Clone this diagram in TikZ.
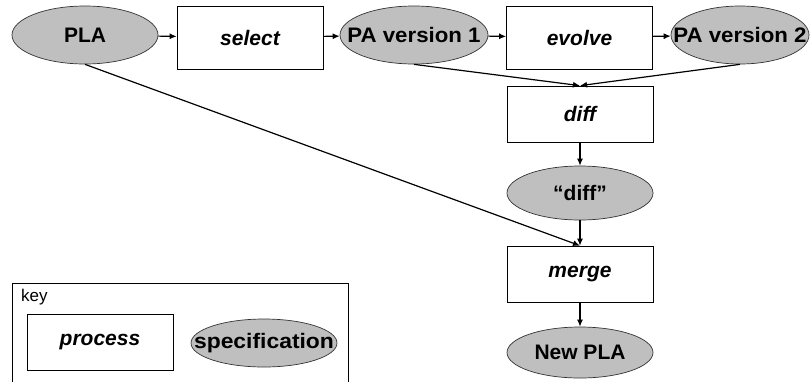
\documentclass[tikz,border=0pt]{standalone}
\usepackage{graphicx}
\usepackage{fontspec}
\setmainfont{Liberation Sans}
\usetikzlibrary{shapes.geometric,arrows.meta}
% label centred on a zero-width box so the ellipse keeps its set size
\newcommand\speclabel[2][1]{\makebox[0pt]{\scalebox{#1}[1]{#2}}}
\begin{document}
\begin{tikzpicture}[x=1pt,y=-1pt,
  spec/.style={ellipse,draw=black!80,line width=0.7pt,fill=black!25,inner sep=0pt,
    minimum width=146pt,minimum height=58pt,font=\fontsize{21}{23}\selectfont\bfseries},
  proc/.style={rectangle,draw=black,line width=0.7pt,fill=white,inner sep=0pt,
    minimum width=146pt,minimum height=60pt,font=\fontsize{21}{23}\selectfont\bfseries\itshape},
  flow/.style={draw=black,line width=1.2pt,-{Latex[length=7pt,width=6pt]}}]
\useasboundingbox (0,0) rectangle (811,381);
% main flow
\node[spec] (pla) at (85,35) {\speclabel{PLA}};
\node[proc,minimum height=63pt] (select) at (250,37.5) {select};
\node[spec,minimum width=148pt] (pa1) at (414,35) {\speclabel[1.06]{PA version 1}};
\node[proc,minimum height=63pt] (evolve) at (579.5,37.5) {evolve};
\node[spec,minimum width=138pt] (pa2) at (740,35) {\speclabel[1.06]{PA version 2}};
\node[proc,minimum height=56pt] (diff) at (580,114) {diff};
\node[spec,minimum height=54pt] (diffspec) at (580,193) {\speclabel{“diff”}};
\node[proc,minimum height=56pt] (merge) at (580,274) {merge};
\node[spec,minimum height=51pt] (newpla) at (580,352.5) {\speclabel{New PLA}};
% connectors
\draw[flow] (pla) -- (select);
\draw[flow] (select) -- (pa1);
\draw[flow] (pa1) -- (evolve);
\draw[flow] (evolve) -- (pa2);
\draw[flow] (pa1.south) -- (diff.north);
\draw[flow] (pa2.south) -- (diff.north);
\draw[flow] (diff) -- (diffspec);
\draw[flow] (diffspec) -- (merge);
\draw[flow] (pla.south) -- (merge.north);
\draw[flow] (merge) -- (newpla);
% legend
\node[draw=black,line width=0.7pt,minimum width=336pt,minimum height=110pt,inner sep=0pt] (keybox) at (180,338) {};
\node[anchor=west,font=\fontsize{17}{19}\selectfont,inner sep=0pt] (keylabel) at (21,297) {key};
\node[proc,minimum height=56pt] (kproc) at (100,342) {process};
\node[spec,minimum height=48pt] (kspec) at (264,343) {\speclabel[1.09]{specification}};
\end{tikzpicture}
\end{document}
